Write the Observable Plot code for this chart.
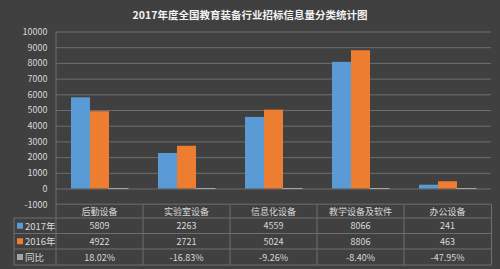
<!DOCTYPE html>
<html>
<head>
<meta charset="utf-8">
<script src="https://cdn.jsdelivr.net/npm/d3@7"></script>
<script src="https://cdn.jsdelivr.net/npm/@observablehq/plot@0.6"></script>
<style>
  html, body { margin: 0; padding: 0; background: #404040; }
  #chart { width: 500px; height: 269px; }
  svg { display: block; }
</style>
</head>
<body>
<div id="chart"></div>
<script>
const title = "2017年度全国教育装备行业招标信息量分类统计图";
const categories = ["后勤设备", "实验室设备", "信息化设备", "教学设备及软件", "办公设备"];
const series = ["2017年", "2016年", "同比"];
const values2017 = [5809, 2263, 4559, 8066, 241];
const values2016 = [4922, 2721, 5024, 8806, 463];
const yoyPercent = [18.02, -16.83, -9.26, -8.40, -47.95];
const yTicks = [-1000, 0, 1000, 2000, 3000, 4000, 5000, 6000, 7000, 8000, 9000, 10000];
const colors = ["#5b9bd5", "#ed7d31", "#a5a5a5"];

const data = categories.flatMap((c, i) => [
  {cat: c, series: series[0], value: values2017[i]},
  {cat: c, series: series[1], value: values2016[i]},
  {cat: c, series: series[2], value: yoyPercent[i] / 100}
]);

const font = "'Noto Sans CJK SC', 'Noto Sans', sans-serif";
const gridColor = "#6e6e6e";
const textColor = "#d9d9d9";

const plot = Plot.plot({
  width: 500,
  height: 269,
  marginTop: 31.5,
  marginBottom: 64.8,
  marginLeft: 56,
  marginRight: 8.5,
  style: {background: "transparent", color: textColor, fontFamily: font, fontSize: "9px", overflow: "visible"},
  fx: {domain: categories, padding: 0, axis: null},
  x: {domain: series, paddingInner: 0, paddingOuter: 0.73, axis: null},
  y: {domain: [-1000, 10000], axis: null},
  color: {domain: series, range: colors},
  marks: [
    Plot.ruleY(yTicks.filter(t => t > -1000), {stroke: gridColor, strokeWidth: 1}),
    Plot.barY(data, {fx: "cat", x: "series", y: "value", fill: "series"}),
    Plot.barY(data.filter(d => d.series === series[2]), {fx: "cat", x: "series", y: "value", stroke: colors[2], strokeWidth: 1}),
    Plot.axisY(yTicks, {tickSize: 0, tickPadding: 9, fontSize: 9, fill: textColor, label: null, tickFormat: d => String(d)})
  ]
});

document.getElementById("chart").appendChild(plot);

// Title and data table, positioned with the plot's own scales
const svgSel = d3.select(plot);
const fxScale = plot.scale("fx");
const yScale = plot.scale("y");
const fxLeft = fxScale.range[0], fxRight = fxScale.range[1];
const fxStep = (fxRight - fxLeft) / categories.length;
const colX = i => (fxScale.apply ? fxScale.apply(categories[i]) : fxLeft + i * fxStep);

svgSel.append("text")
  .attr("x", 250).attr("y", 14)
  .attr("text-anchor", "middle").attr("dominant-baseline", "central")
  .attr("fill", "#f2f2f2").attr("font-weight", "bold")
  .attr("font-size", "10.5px").attr("font-family", font)
  .text(title);

const tg = svgSel.append("g").attr("font-family", font).attr("font-size", "9px");
const tableTop = yScale.apply(-1000);
const rowLines = [tableTop, 218, 233.5, 249, 265];
const labelLeft = 14;

rowLines.forEach((ly, k) => {
  tg.append("line")
    .attr("x1", k === 0 ? fxLeft : labelLeft).attr("x2", fxRight)
    .attr("y1", ly).attr("y2", ly)
    .attr("stroke", gridColor).attr("stroke-width", 1);
});
tg.append("line").attr("x1", fxLeft).attr("x2", fxLeft)
  .attr("y1", yScale.apply(10000)).attr("y2", rowLines[4])
  .attr("stroke", gridColor);
for (let i = 1; i <= categories.length; i++) {
  const lx = i === categories.length ? fxRight : colX(i);
  tg.append("line").attr("x1", lx).attr("x2", lx)
    .attr("y1", tableTop).attr("y2", rowLines[4]).attr("stroke", gridColor);
}
tg.append("line").attr("x1", labelLeft).attr("x2", labelLeft)
  .attr("y1", rowLines[1]).attr("y2", rowLines[4]).attr("stroke", gridColor);

categories.forEach((c, i) => {
  tg.append("text")
    .attr("x", colX(i) + fxStep / 2).attr("y", (rowLines[0] + rowLines[1]) / 2 + 0.5)
    .attr("text-anchor", "middle").attr("dominant-baseline", "central")
    .attr("fill", textColor).text(c);
});

const tableRows = [
  values2017.map(String),
  values2016.map(String),
  yoyPercent.map(v => v.toFixed(2) + "%")
];
tableRows.forEach((vals, r) => {
  const cy = (rowLines[r + 1] + rowLines[r + 2]) / 2;
  tg.append("rect")
    .attr("x", labelLeft + 3).attr("y", cy - 3).attr("width", 6).attr("height", 6)
    .attr("fill", colors[r]);
  tg.append("text")
    .attr("x", labelLeft + 11).attr("y", cy)
    .attr("text-anchor", "start")
    .attr("dominant-baseline", "central").attr("font-size", "9.5px")
    .attr("fill", textColor).text(series[r]);
  vals.forEach((v, i) => {
    tg.append("text")
      .attr("x", colX(i) + fxStep / 2).attr("y", cy)
      .attr("text-anchor", "middle").attr("dominant-baseline", "central")
      .attr("fill", textColor).text(v);
  });
});
</script>
</body>
</html>
